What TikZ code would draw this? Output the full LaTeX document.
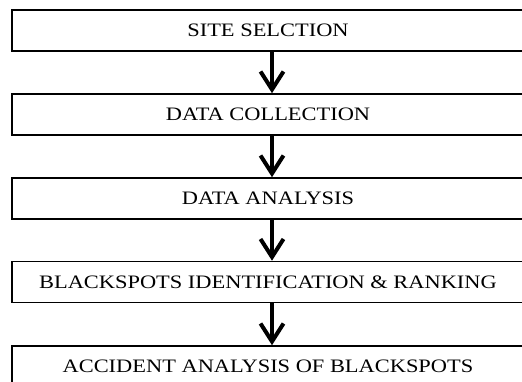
\documentclass[tikz,border=0pt]{standalone}
\usepackage{fontspec}
\setmainfont{Liberation Serif}[FakeStretch=1.18]
\usetikzlibrary{arrows.meta}

\tikzset{
    stagebox/.style={draw, line width=1.6pt, minimum width=512pt, minimum height=41pt,
        inner sep=0pt, font=\fontsize{19}{22}\selectfont},
    flowarrow/.style={line width=4pt, -{Straight Barb[length=18pt,width=23pt,line width=4pt]}}
}

\begin{document}
\begin{tikzpicture}[x=1pt, y=1pt]
        \useasboundingbox (0,0) rectangle (522,-381);

        \node[stagebox] (site) at (268, -30.5) {SITE SELCTION};
        \node[stagebox] (collect) at (268, -114.5) {DATA COLLECTION};
        \node[stagebox] (analysis) at (268, -198.5) {DATA ANALYSIS};
        \node[stagebox] (rank) at (268, -282) {BLACKSPOTS IDENTIFICATION \& RANKING};
        \node[stagebox] (accident) at (268, -366.5) {ACCIDENT ANALYSIS OF BLACKSPOTS};

        \draw[flowarrow] ([xshift=4pt]site.south) -- ([xshift=4pt]collect.north);
        \draw[flowarrow] ([xshift=4pt]collect.south) -- ([xshift=4pt]analysis.north);
        \draw[flowarrow] ([xshift=4pt]analysis.south) -- ([xshift=4pt]rank.north);
        \draw[flowarrow] ([xshift=4pt]rank.south) -- ([xshift=4pt]accident.north);

    \end{tikzpicture}
\end{document}
